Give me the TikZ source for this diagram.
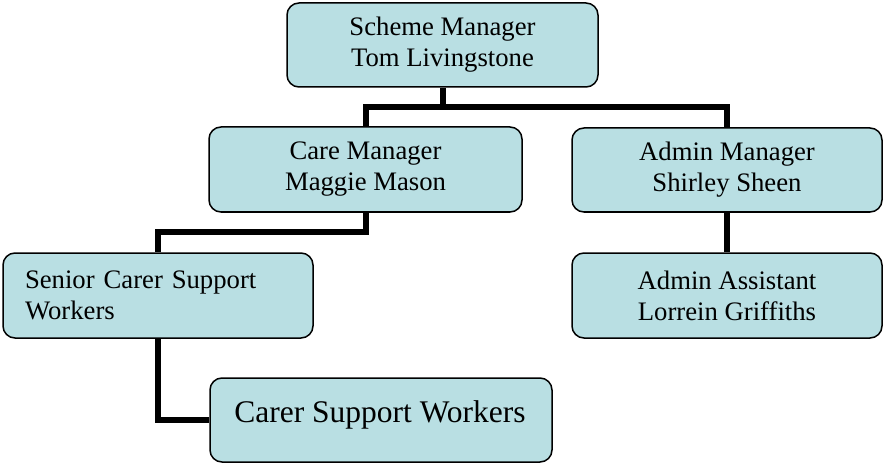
\documentclass[tikz,border=0pt]{standalone}
\usepackage{fontspec}
\setmainfont{Liberation Serif}
\definecolor{boxfill}{RGB}{185,223,227}
\begin{document}
\begin{tikzpicture}[x=1pt,y=-1pt,
  orgbox/.style={draw=black,line width=1.5pt,fill=boxfill,rounded corners=12pt,
    inner sep=0pt,align=center,font=\fontsize{26.7}{31}\selectfont},
  link/.style={line width=6pt,line join=miter}]
\useasboundingbox (0,0) rectangle (883,465);
\node[orgbox,minimum width=311pt,minimum height=84pt] (scheme) at (442.5,45)
  {Scheme Manager\\Tom Livingstone};
\node[orgbox,minimum width=313pt,minimum height=85pt] (care) at (365.5,169.5)
  {Care Manager\\Maggie Mason};
\node[orgbox,minimum width=310pt,minimum height=84pt] (admin) at (727,170)
  {Admin Manager\\Shirley Sheen};
\node[orgbox,minimum width=310pt,minimum height=85pt,align=left,
  text width=266pt] (senior) at (158,295.5)
  {Senior Carer Support\\Workers};
\node[orgbox,minimum width=310pt,minimum height=85pt] (assist) at (727,295.5)
  {Admin Assistant\\Lorrein Griffiths};
\node[orgbox,minimum width=342pt,minimum height=84pt] (carer) at (381,420) {};
\node[anchor=base,font=\fontsize{31.5}{38}\selectfont,inner sep=0pt] (carertext)
  at (380,422) {Carer Support Workers};
\coordinate (bus) at (442.5,107);
\coordinate (bend) at (158,232);
\begin{scope}[on background layer/.try]
\draw[link] (scheme.south) -- (bus);
\draw[link] (care.north) |- (bus);
\draw[link] (admin.north) |- (bus);
\draw[link] (care.south) |- (bend) -- (senior.north);
\draw[link] (admin.south) -- (assist.north);
\draw[link] (senior.south) |- (carer.west);
\end{scope}
\end{tikzpicture}
\end{document}
